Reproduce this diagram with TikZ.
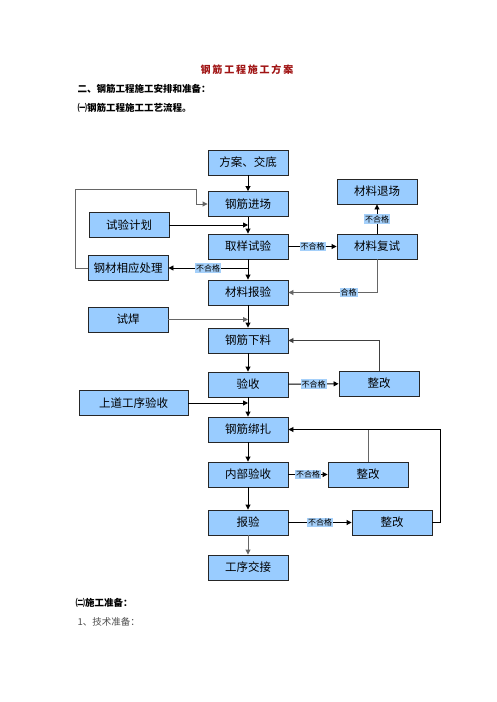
\documentclass[tikz,border=0pt]{standalone}
\usepackage{fontspec}
\usetikzlibrary{arrows.meta, positioning, calc}
\setmainfont{Noto Sans CJK SC}
\definecolor{boxblue}{RGB}{153,204,255}
\definecolor{tagblue}{RGB}{165,208,250}
\definecolor{titlered}{RGB}{160,20,20}
\tikzset{
    stepbox/.style={rectangle, draw=black!85, line width=0.9pt, fill=boxblue, minimum width=80pt, minimum height=25pt, inner sep=0pt, font=\fontsize{11.5}{13}\selectfont},
    tag/.style={fill=tagblue, text=black, inner sep=1pt, font=\fontsize{8}{9}\selectfont},
    arrow/.style={line width=0.9pt, -{Triangle[length=5pt,width=5pt]}},
    link/.style={line width=0.9pt},
    heading/.style={anchor=west, font=\bfseries\fontsize{9.5}{11}\selectfont}
}

\begin{document}
\begin{tikzpicture}[x=1pt, y=-1pt]
    \useasboundingbox (0,0) rectangle (496,702);
    % headings
    \node[font=\bfseries\fontsize{10}{12}\selectfont, text=titlered] (title) at (247,70) {\addfontfeature{LetterSpace=18}钢筋工程施工方案};
    \node[heading] (part2) at (74,89) {二、钢筋工程施工安排和准备：};
    \node[heading] (part21) at (74,108) {㈠钢筋工程施工工艺流程。};
    \node[heading] (part22) at (72,603) {㈡施工准备：};
    \node[anchor=west, font=\fontsize{9.5}{11}\selectfont, text=black!70] (part23) at (74,622) {1、技术准备：};

    % main column
    \node[stepbox] (fa) at (248,162.5) {方案、交底};
    \node[stepbox] (jc) at (248,204) {钢筋进场};
    \node[stepbox] (qy) at (248,246.5) {取样试验};
    \node[stepbox] (by) at (248,292.5) {材料报验};
    \node[stepbox] (xl) at (248,340.5) {钢筋下料};
    \node[stepbox] (ys) at (248,384.5) {验收};
    \node[stepbox] (bz) at (248,429.5) {钢筋绑扎};
    \node[stepbox] (nb) at (248,474.5) {内部验收};
    \node[stepbox] (bj) at (248,522.5) {报验};
    \node[stepbox] (jj) at (248,567.5) {工序交接};

    % side boxes
    \node[stepbox] (jh) at (129,225) {试验计划};
    \node[stepbox] (cl) at (128,268) {钢材相应处理};
    \node[stepbox] (hj) at (128,319.5) {试焊};
    \node[stepbox, minimum width=109pt] (sd) at (133.5,403) {上道工序验收};
    \node[stepbox] (fs) at (377,246.5) {材料复试};
    \node[stepbox] (tc) at (377,191.5) {材料退场};
    \node[stepbox] (zg1) at (379,383.5) {整改};
    \node[stepbox] (zg2) at (368,474.5) {整改};
    \node[stepbox] (zg3) at (392,522.5) {整改};

    \foreach \a/\b in {fa/jc, jc/qy, qy/by, by/xl, xl/ys, ys/bz, bz/nb, nb/bj}
        \draw[arrow] (\a) -- (\b);
    \draw[arrow, black!60] (bj) -- (jj);

    \draw[arrow] (jh) -- (jh -| jc.south);
    \draw[arrow, black!60] (hj) -- (hj -| xl.north);
    \draw[arrow] (sd) -- (sd -| bz.north);

    \draw[arrow] (qy.south |- cl.east) -- node[tag]{不合格} (cl.east);
    \draw[arrow, black!60] (cl.west) -- ++(-12,0) |- (196,189) |- (jc.west);
    \draw[arrow] (qy) -- node[tag]{不合格} (fs);
    \draw[arrow] (fs) -- node[tag]{不合格} (tc);
    \draw[arrow, black!60] (fs.south) |- node[tag, pos=0.66]{合格} (by.east);

    \draw[arrow] (ys) -- node[tag]{不合格} (zg1);
    \draw[arrow, black!75] (zg1.north) |- (xl.east);
    \draw[arrow] (nb) -- node[tag]{不合格} (zg2);
    \draw[link, black!60] (zg2.north) -- (zg2.north |- bz.east);
    \draw[arrow] (bj) -- node[tag]{不合格} (zg3);
    \draw[arrow] (zg3.east) -- ++(8,0) |- (bz.east);
\end{tikzpicture}
\end{document}
